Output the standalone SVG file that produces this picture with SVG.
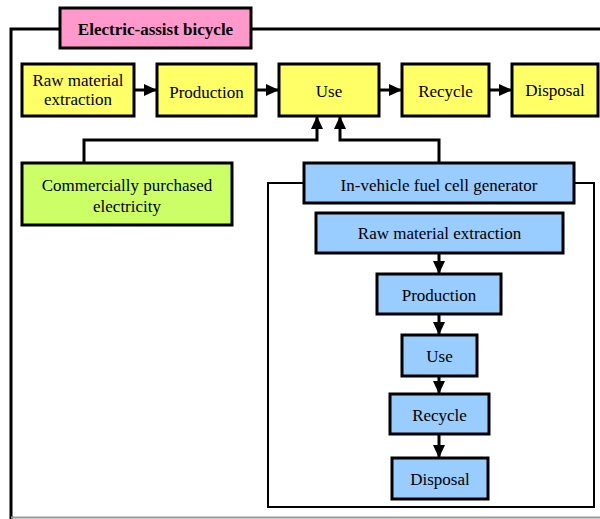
<svg xmlns="http://www.w3.org/2000/svg" width="600" height="519" viewBox="0 0 600 519">
<style>
text{font-family:"Liberation Serif","Times New Roman",serif;font-size:17px;fill:#000;text-anchor:middle}
.b{stroke:#000;stroke-width:3}
.y{fill:#FFFF66}
.g{fill:#CCFF66}
.u{fill:#99CCFF}
.p{fill:#FF99CC}
.c{fill:none;stroke:#000;stroke-width:3}
.fr{fill:none;stroke:#000}
</style>
<defs>
<marker id="ah" markerUnits="userSpaceOnUse" markerWidth="14" markerHeight="12" refX="13" refY="6" orient="auto">
<path d="M0,0 L13,6 L0,12 Z" fill="#000"/>
</marker>
</defs>
<rect width="600" height="519" fill="#fff"/>
<g id="frames">
<path class="fr" stroke-width="3" d="M60,29 H11 V519 M251,29 H600"/>
<line x1="11" y1="517.5" x2="600" y2="517.5" stroke="#999" stroke-width="2"/>
<path class="fr" stroke-width="2" d="M304,183 H268 V507 H594 V183 H574"/>
</g>
<g id="connectors">
<line class="c" x1="134" y1="90" x2="157" y2="90" marker-end="url(#ah)"/>
<line class="c" x1="256" y1="90" x2="279" y2="90" marker-end="url(#ah)"/>
<line class="c" x1="379" y1="90" x2="402" y2="90" marker-end="url(#ah)"/>
<line class="c" x1="489" y1="90" x2="512" y2="90" marker-end="url(#ah)"/>
<path class="c" d="M84,163 V140 H317 V116" marker-end="url(#ah)"/>
<path class="c" d="M439,163 V140 H340 V116" marker-end="url(#ah)"/>
<line class="c" x1="439" y1="253" x2="439" y2="274" marker-end="url(#ah)"/>
<line class="c" x1="439" y1="314" x2="439" y2="335" marker-end="url(#ah)"/>
<line class="c" x1="439" y1="376" x2="439" y2="394" marker-end="url(#ah)"/>
<line class="c" x1="439" y1="434" x2="439" y2="458" marker-end="url(#ah)"/>
</g>
<g id="title"><rect class="b p" x="60" y="8" width="191" height="40"/><text x="155.5" y="35" font-weight="bold">Electric-assist bicycle</text></g>
<g id="raw"><rect class="b y" x="22" y="64" width="112" height="52"/><text x="78" y="86">Raw material</text><text x="78" y="105">extraction</text></g>
<g id="production"><rect class="b y" x="157" y="64" width="99" height="52"/><text x="206.5" y="98">Production</text></g>
<g id="use"><rect class="b y" x="279" y="64" width="100" height="52"/><text x="329" y="97">Use</text></g>
<g id="recycle"><rect class="b y" x="402" y="64" width="87" height="52"/><text x="445.5" y="97">Recycle</text></g>
<g id="disposal"><rect class="b y" x="512" y="64" width="86" height="52"/><text x="555" y="96">Disposal</text></g>
<g id="electricity"><rect class="b g" x="22" y="163" width="210" height="62"/><text x="127" y="191">Commercially purchased</text><text x="127" y="212">electricity</text></g>
<g id="fuelcell"><rect class="b u" x="304" y="163" width="270" height="40"/><text x="439" y="191">In-vehicle fuel cell generator</text></g>
<g id="fc-raw"><rect class="b u" x="316" y="213" width="247" height="40"/><text x="439.5" y="239">Raw material extraction</text></g>
<g id="fc-production"><rect class="b u" x="377" y="274" width="124" height="40"/><text x="439" y="301">Production</text></g>
<g id="fc-use"><rect class="b u" x="402" y="335" width="75" height="41"/><text x="439.5" y="362">Use</text></g>
<g id="fc-recycle"><rect class="b u" x="390" y="394" width="99" height="40"/><text x="439.5" y="421">Recycle</text></g>
<g id="fc-disposal"><rect class="b u" x="392" y="458" width="96" height="41"/><text x="440" y="485">Disposal</text></g>
</svg>
